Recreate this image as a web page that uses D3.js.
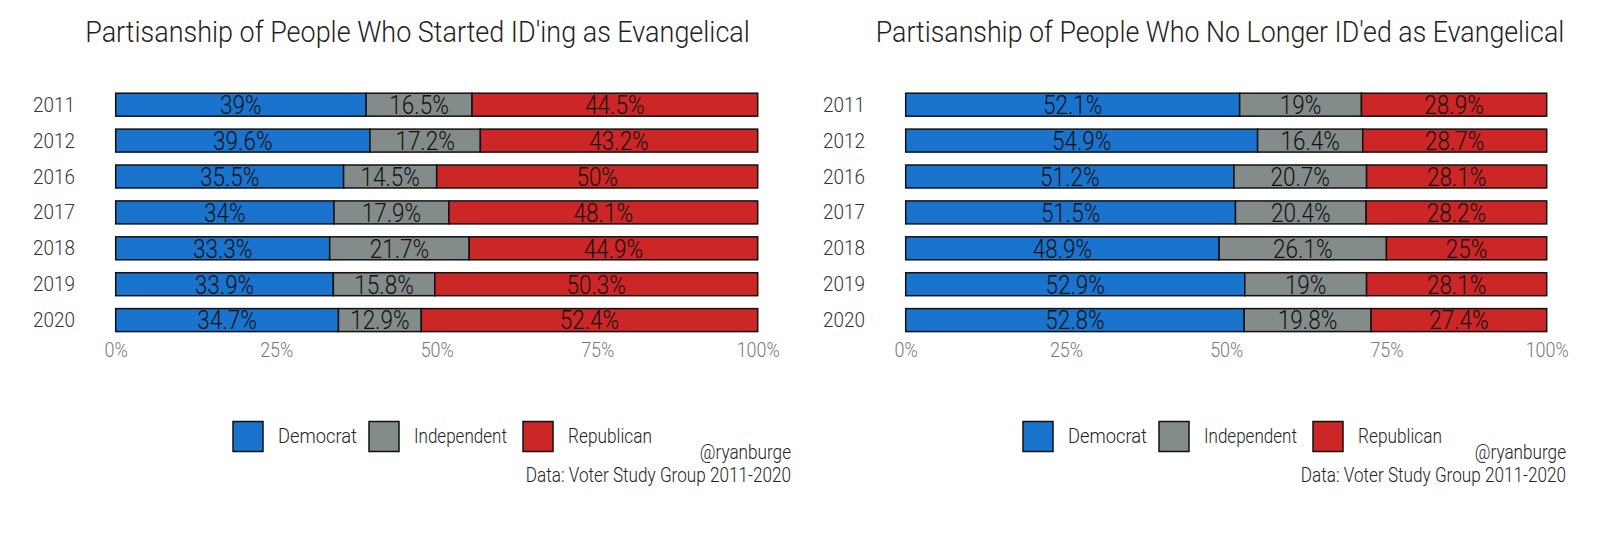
<!DOCTYPE html>
<html><head><meta charset="utf-8">
<script src="https://cdn.jsdelivr.net/npm/d3@7"></script>
<style>
html,body{margin:0;padding:0;background:#fff;overflow:hidden;}
svg{display:block;}
text{font-family:Roboto,"Noto Sans",sans-serif;font-weight:300;}
</style></head>
<body><svg id="c" width="1600" height="534"></svg>
<script>
const years = ["2011","2012","2016","2017","2018","2019","2020"];
const parties = ["Democrat","Independent","Republican"];
const colors = ["#1a74cd","#838b8b","#cd2626"];
const startedDem = [39,39.6,35.5,34,33.3,33.9,34.7];
const startedInd = [16.5,17.2,14.5,17.9,21.7,15.8,12.9];
const startedRep = [44.5,43.2,50,48.1,44.9,50.3,52.4];
const leftDem = [52.1,54.9,51.2,51.5,48.9,52.9,52.8];
const leftInd = [19,16.4,20.7,20.4,26.1,19,19.8];
const leftRep = [28.9,28.7,28.1,28.2,25,28.1,27.4];
const tickVals = [0,0.25,0.5,0.75,1];
const tickLabels = ["0%","25%","50%","75%","100%"];
const titles = ["Partisanship of People Who Started ID'ing as Evangelical","Partisanship of People Who No Longer ID'ed as Evangelical"];
const captions = ["@ryanburge","Data: Voter Study Group 2011-2020"];

const svg = d3.select("#c");
// add horizontally condensed text: either factor f or target width w
function ctext(parent,x,y,str,opt){
  const g = parent.append("g");
  const t = g.append("text").attr("x",0).attr("y",0)
    .attr("text-anchor",opt.anchor||"start").attr("font-size",opt.size).attr("fill",opt.fill||"#222").text(str);
  let f = opt.f||1;
  if(opt.w){ f = opt.w/t.node().getComputedTextLength(); }
  g.attr("transform",`translate(${x},${y}) scale(${f},1)`);
  return t;
}
function squeezeAxis(sel,f){
  sel.each(function(){
    const s=d3.select(this); const xx=+s.attr("x")||0;
    s.attr("x",xx/f).attr("transform",`scale(${f},1)`);
  });
}
const panels = [
  {x0:115.7,x1:757.7,title:titles[0],tcx:417.5,tw:665,dem:startedDem,ind:startedInd,rep:startedRep,legX:233,capX:791},
  {x0:905.7,x1:1546.7,title:titles[1],tcx:1220,tw:689,dem:leftDem,ind:leftInd,rep:leftRep,legX:1023,capX:1566}
];

panels.forEach(p=>{
  const g = svg.append("g");
  const x = d3.scaleLinear().domain([0,1]).range([p.x0,p.x1]);
  const y = d3.scaleBand().domain(years).range([86.75,338.05]).paddingInner(0.36).paddingOuter(0.18);
  ctext(g,p.tcx,41.7,p.title,{anchor:"middle",size:29.5,w:p.tw});
  years.forEach((yr,i)=>{
    const vals=[p.dem[i],p.ind[i],p.rep[i]];
    const tot=d3.sum(vals);
    let cum=0;
    vals.forEach((v,j)=>{
      const a=cum/tot, b=(cum+v)/tot; cum+=v;
      g.append("rect").attr("x",x(a)).attr("y",y(yr)).attr("width",x(b)-x(a)).attr("height",y.bandwidth())
        .attr("fill",colors[j]).attr("stroke","#111").attr("stroke-width",1.5);
    });
    cum=0;
    vals.forEach((v,j)=>{
      const a=cum/tot, b=(cum+v)/tot; cum+=v;
      ctext(g,(x(a)+x(b))/2,y(yr)+y.bandwidth()/2+9.3,v+"%",{anchor:"middle",size:25,f:0.9,fill:"#111"});
    });
  });
  const ya = g.append("g").attr("transform",`translate(${p.x0-6},0)`).call(d3.axisLeft(y).tickSize(0).tickPadding(34.7));
  ya.select(".domain").remove();
  ya.selectAll("text").attr("font-size",19.5).attr("fill","#333").attr("dy","0.36em").style("font-family","Roboto,sans-serif").style("font-weight",300);
  squeezeAxis(ya.selectAll("text"),0.97);
  const xa = g.append("g").attr("transform",`translate(0,343)`).call(d3.axisBottom(x).tickValues(tickVals).tickFormat((d,i)=>tickLabels[i]).tickSize(0).tickPadding(0));
  xa.select(".domain").remove();
  xa.selectAll("text").attr("font-size",19.5).attr("fill","#777").attr("dy","0.72em").style("font-family","Roboto,sans-serif").style("font-weight",300);
  squeezeAxis(xa.selectAll("text"),0.92);
  const legOff=[0,136,290];
  const txtW=[79,93,84];
  parties.forEach((nm,j)=>{
    g.append("rect").attr("x",p.legX+legOff[j]).attr("y",421.5).attr("width",30).attr("height",30).attr("fill",colors[j]).attr("stroke","#111").attr("stroke-width",1.5);
    ctext(g,p.legX+legOff[j]+45,443,nm,{size:19.5,w:txtW[j]});
  });
  captions.forEach((c,k)=>{
    ctext(g,p.capX,459+k*22.5,c,{anchor:"end",size:19.5,f:0.88});
  });
});
</script></body></html>
